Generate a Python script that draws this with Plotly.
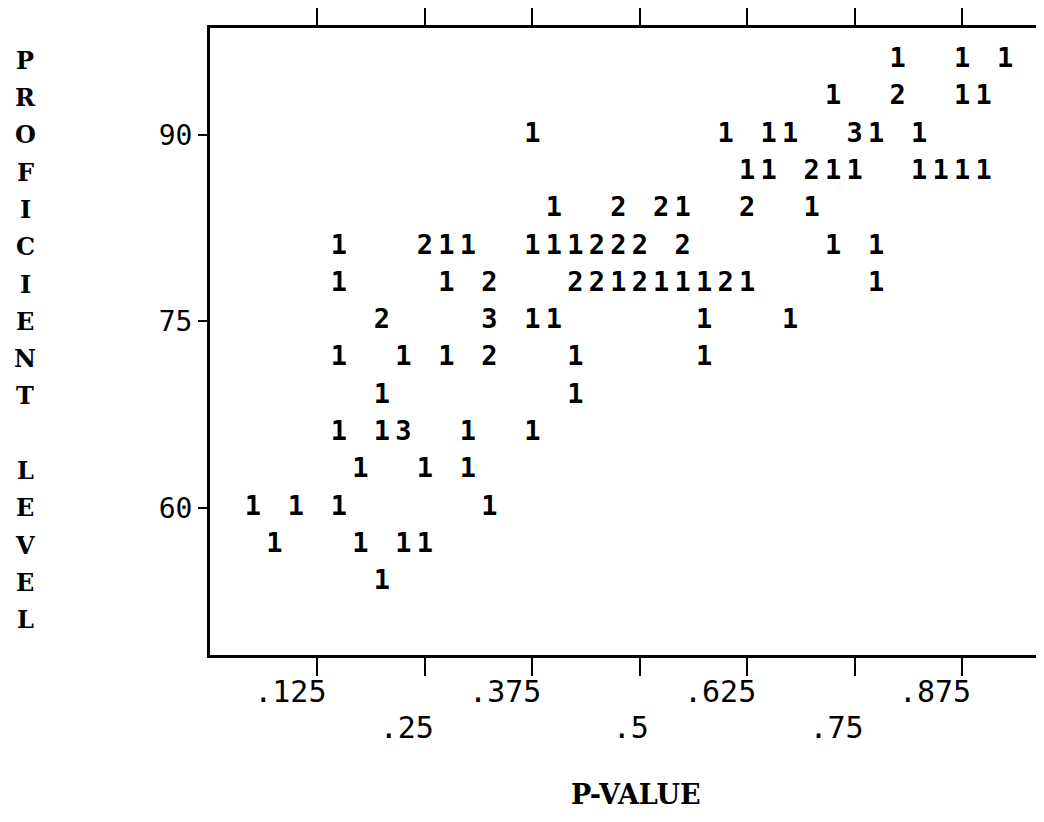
import plotly.graph_objects as go

# Scatter of item P-values vs proficient level; plotted symbols are counts of items
p_value = [
    0.800, 0.875, 0.925,                                                   # 96
    0.725, 0.800, 0.875, 0.900,                                            # 93
    0.375, 0.600, 0.650, 0.675, 0.750, 0.775, 0.825,                       # 90
    0.625, 0.650, 0.700, 0.725, 0.750, 0.825, 0.850, 0.875, 0.900,         # 87
    0.400, 0.475, 0.525, 0.550, 0.625, 0.700,                              # 84
    0.150, 0.250, 0.275, 0.300, 0.375, 0.400, 0.425, 0.450, 0.475, 0.500, 0.550, 0.725, 0.775,  # 81
    0.150, 0.275, 0.325, 0.425, 0.450, 0.475, 0.500, 0.525, 0.550, 0.575, 0.600, 0.625, 0.775,  # 78
    0.200, 0.325, 0.375, 0.400, 0.575, 0.675,                              # 75
    0.150, 0.225, 0.275, 0.325, 0.425, 0.575,                              # 72
    0.200, 0.425,                                                          # 69
    0.150, 0.200, 0.225, 0.300, 0.375,                                     # 66
    0.175, 0.250, 0.300,                                                   # 63
    0.050, 0.100, 0.150, 0.325,                                            # 60
    0.075, 0.175, 0.225, 0.250,                                            # 57
    0.200,                                                                 # 54
]
prof_level = (
    [96] * 3 + [93] * 4 + [90] * 7 + [87] * 9 + [84] * 6 + [81] * 13 + [78] * 13
    + [75] * 6 + [72] * 6 + [69] * 2 + [66] * 5 + [63] * 3 + [60] * 4 + [57] * 4 + [54] * 1
)
count = [
    1, 1, 1,
    1, 2, 1, 1,
    1, 1, 1, 1, 3, 1, 1,
    1, 1, 2, 1, 1, 1, 1, 1, 1,
    1, 2, 2, 1, 2, 1,
    1, 2, 1, 1, 1, 1, 1, 2, 2, 2, 2, 1, 1,
    1, 1, 2, 2, 2, 1, 2, 1, 1, 1, 2, 1, 1,
    2, 3, 1, 1, 1, 1,
    1, 1, 1, 2, 1, 1,
    1, 1,
    1, 1, 3, 1, 1,
    1, 1, 1,
    1, 1, 1, 1,
    1, 1, 1, 1,
    1,
]

x_ticks_low = [0.125, 0.375, 0.625, 0.875]
x_ticks_high = [0.25, 0.5, 0.75]
x_tick_all = [0.125, 0.25, 0.375, 0.5, 0.625, 0.75, 0.875]
y_ticks = [60, 75, 90]
y_title = "PROFICIENT LEVEL"
x_title = "P-VALUE"

NB = "\u00a0"


def lab(v):
    s = ("%g" % v).lstrip("0")
    return s + NB * (len(s) - 1)


X_RANGE = [0, 0.9703]
Y_RANGE = [48.16, 98.6]

# page body has an 8px margin: figure is sized/offset to compensate
W, H = 1036, 814
L, R, T, B = 202, 0, 20, 167
PW = W - L - R
PH = H - T - B

fig = go.Figure()
fig.add_trace(go.Scatter(
    x=p_value, y=prof_level, mode="text",
    text=[str(c) for c in count],
    textposition="middle center",
    textfont=dict(family="DejaVu Sans Mono", size=27, color="black", weight="bold"),
    hoverinfo="skip", showlegend=False,
))
fig.add_trace(go.Scatter(x=[], y=[], xaxis="x2", showlegend=False))

fig.update_layout(
    width=W, height=H,
    margin=dict(l=L, r=R, t=T, b=B, pad=0),
    paper_bgcolor="white", plot_bgcolor="white",
    showlegend=False,
    xaxis=dict(
        range=X_RANGE, showgrid=False, zeroline=False,
        showline=True, linecolor="black", linewidth=3, mirror="ticks",
        ticks="outside", ticklen=18, tickwidth=2, tickcolor="black",
        tickvals=x_tick_all,
        ticktext=[lab(v) if v in x_ticks_low else "" for v in x_tick_all],
        tickfont=dict(family="DejaVu Sans Mono", size=30, color="black"),
        ticklabelstandoff=-10,
    ),
    xaxis2=dict(
        overlaying="x", anchor="y", side="bottom",
        range=X_RANGE, showgrid=False, zeroline=False, showline=False,
        ticks="", tickvals=x_ticks_high,
        ticktext=[lab(v) for v in x_ticks_high],
        tickfont=dict(family="DejaVu Sans Mono", size=30, color="black"),
        ticklabelstandoff=52,
    ),
    yaxis=dict(
        range=Y_RANGE, showgrid=False, zeroline=False,
        showline=True, linecolor="black", linewidth=3, mirror=False,
        ticks="outside", ticklen=9, tickwidth=2, tickcolor="black",
        tickvals=y_ticks, ticktext=[str(v) for v in y_ticks],
        tickfont=dict(family="DejaVu Sans Mono", size=28, color="black"),
        ticklabelstandoff=0,
    ),
)

# Vertical stacked-letter y-axis title
annotations = []
for i, ch in enumerate(y_title):
    if ch == " ":
        continue
    annotations.append(dict(
        text=ch, xref="paper", yref="y", x=(17 - L) / PW, y=96 - 3 * i,
        xanchor="center", yanchor="middle", showarrow=False,
        font=dict(family="DejaVu Serif", size=24, color="black", weight="bold"),
    ))
annotations.append(dict(
    text=x_title, xref="paper", yref="paper", x=(628 - L) / PW, y=-140 / PH,
    xanchor="center", yanchor="middle", showarrow=False,
    font=dict(family="DejaVu Serif", size=27, color="black", weight="bold"),
))
fig.update_layout(annotations=annotations)

fig.write_html("out.html")
